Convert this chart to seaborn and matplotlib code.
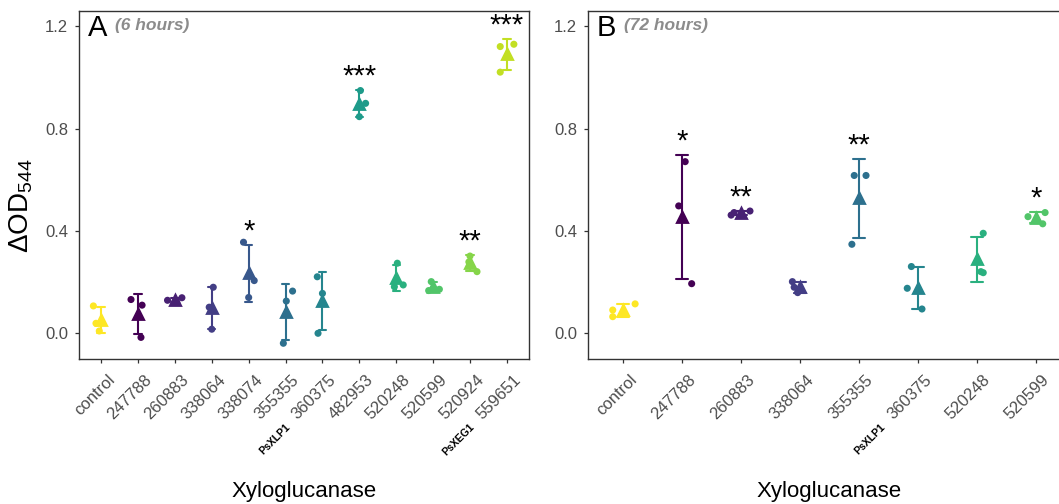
import numpy as np
import pandas as pd
import matplotlib
matplotlib.use("Agg")
import matplotlib.pyplot as plt
import matplotlib.transforms as mtransforms
import seaborn as sns

# ---------------- data ----------------
groups_6h = ["control", "247788", "260883", "338064", "338074", "355355",
             "360375", "482953", "520248", "520599", "520924", "559651"]
values_6h = [[0.107, 0.039, 0.009], [0.132, 0.110, -0.016], [0.129, 0.121, 0.139],
             [0.180, 0.102, 0.016], [0.356, 0.206, 0.140], [0.126, -0.039, 0.165],
             [0.221, 0.156, 0.000], [0.949, 0.899, 0.847], [0.274, 0.189, 0.182],
             [0.202, 0.172, 0.167], [0.302, 0.279, 0.241], [1.121, 1.130, 1.021]]
jitter_6h = [[-0.21, -0.14, -0.05], [-0.19, 0.11, 0.08], [-0.20, 0.05, 0.19],
             [0.04, -0.07, 0.00], [-0.14, 0.15, 0.00], [0.02, -0.06, 0.19],
             [-0.14, 0.00, -0.12], [0.03, 0.17, 0.00], [0.03, 0.19, -0.05],
             [-0.05, 0.17, -0.12], [0.00, -0.03, 0.19], [-0.18, 0.19, -0.18]]
stars_6h = ["", "", "", "", "*", "", "", "***", "", "", "**", "***"]

groups_72h = ["control", "247788", "260883", "338064", "355355", "360375", "520248", "520599"]
values_72h = [[0.091, 0.065, 0.115], [0.671, 0.498, 0.194], [0.462, 0.472, 0.478],
              [0.202, 0.180, 0.159], [0.617, 0.617, 0.348], [0.261, 0.176, 0.095],
              [0.391, 0.237, 0.241], [0.456, 0.472, 0.428]]
jitter_72h = [[-0.18, -0.18, 0.20], [0.05, -0.06, 0.16], [-0.17, -0.12, 0.15],
              [-0.13, -0.10, -0.04], [-0.08, 0.12, -0.12], [-0.11, -0.18, 0.07],
              [0.11, 0.11, 0.07], [-0.13, 0.16, 0.12]]
stars_72h = ["", "*", "**", "", "**", "", "", "*"]

bold_prefix = {"360375": "PsXLP1", "559651": "PsXEG1"}
panel_letters = ["A", "B"]
panel_notes = ["(6 hours)", "(72 hours)"]
y_ticks = [0.0, 0.4, 0.8, 1.2]
x_title = "Xyloglucanase"
y_title = r"ΔOD$_{544}$"

# ---------------- style ----------------
sns.set_theme(style="ticks")
plt.rcParams["font.family"] = ["Liberation Sans", "DejaVu Sans"]
plt.rcParams["mathtext.fontset"] = "custom"
plt.rcParams["mathtext.rm"] = "Liberation Sans"
plt.rcParams["mathtext.it"] = "Liberation Sans:italic"
plt.rcParams["mathtext.bf"] = "Liberation Sans:bold"

# viridis over all levels (numeric ids sorted, control last)
all_levels = sorted(set(groups_6h + groups_72h) - {"control"}) + ["control"]
cmap = plt.get_cmap("viridis")
level_colors = {lv: cmap(i / (len(all_levels) - 1)) for i, lv in enumerate(all_levels)}

W, H = 1059, 504
fig = plt.figure(figsize=(W / 100, H / 100), dpi=100)
ax1 = fig.add_axes([79 / W, 1 - 359 / H, 450 / W, 348 / H])
ax2 = fig.add_axes([588 / W, 1 - 359 / H, 483 / W, 348 / H])

frame_col = "#333333"
tick_col = "#4D4D4D"


def draw_panel(ax, groups, values, jitter, stars, letter, note):
    long = pd.DataFrame({
        "group": [g for g, v in zip(groups, values) for _ in v],
        "od": [x for v in values for x in v],
        "xpos": [i + j for i, jl in enumerate(jitter) for j in jl],
    })
    pal = {g: level_colors[g] for g in groups}
    sns.pointplot(data=long, x="group", y="od", hue="group", order=groups,
                  hue_order=groups, palette=pal, errorbar="sd", capsize=0.2,
                  marker="^", linestyle="none", markersize=7.5, legend=False,
                  err_kws={"linewidth": 1.5}, ax=ax)
    sns.scatterplot(data=long, x="xpos", y="od", hue="group", hue_order=groups,
                    palette=pal, s=26, linewidth=0, legend=False, ax=ax, zorder=5)
    # significance stars above mean + sd
    stats = long.groupby("group", sort=False)["od"].agg(["mean", "std"])
    for i, (g, s) in enumerate(zip(groups, stars)):
        if s:
            top = stats.loc[g, "mean"] + stats.loc[g, "std"]
            ax.annotate(s, xy=(i, top), xytext=(0, 4), textcoords="offset points",
                        ha="center", va="baseline", fontsize=21, color="black")
    ax.set_xlim(-0.6, len(groups) - 0.4)
    ax.set_ylim(-0.1005, 1.26)
    ax.set_yticks(y_ticks)
    ax.set_yticklabels([f"{t:.1f}" for t in y_ticks])
    ax.set_xticks(range(len(groups)))
    ax.set_xticklabels(groups, rotation=45, ha="right", va="top",
                       rotation_mode="anchor")
    ax.tick_params(axis="both", colors=frame_col, labelcolor=tick_col,
                   labelsize=12, length=3, width=0.9, direction="out")
    ax.tick_params(axis="y", pad=5)
    ax.tick_params(axis="x", pad=2)
    shift = mtransforms.ScaledTranslation(0.06, -0.06, fig.dpi_scale_trans)
    for t in ax.get_xticklabels():
        t.set_transform(t.get_transform() + shift)
    for sp in ax.spines.values():
        sp.set_visible(True)
        sp.set_color(frame_col)
        sp.set_linewidth(1.0)
    ax.set_xlabel(x_title, fontsize=16, color="black")
    ax.xaxis.set_label_coords(0.5, -0.352)
    ax.xaxis.label.set_va("top")
    ax.set_ylabel("")
    ax.annotate(letter, xy=(0, 1), xycoords="axes fraction",
                xytext=(9 * 0.72, -25 * 0.72), textcoords="offset points",
                ha="left", va="baseline", fontsize=21, color="black")
    ax.annotate(note, xy=(0, 1), xycoords="axes fraction",
                xytext=(36 * 0.72, -19 * 0.72), textcoords="offset points",
                ha="left", va="baseline", fontsize=12.5, color="#8C8C8C",
                fontweight="bold", fontstyle="italic")


draw_panel(ax1, groups_6h, values_6h, jitter_6h, stars_6h,
           panel_letters[0], panel_notes[0])
draw_panel(ax2, groups_72h, values_72h, jitter_72h, stars_72h,
           panel_letters[1], panel_notes[1])

ax1.set_ylabel(y_title, fontsize=20, color="black")
ax1.yaxis.set_label_coords(-0.098, 0.44)

# bold prefixes placed in front of selected tick labels
fig.canvas.draw()
renderer = fig.canvas.get_renderer()
c45 = np.cos(np.deg2rad(45))
for ax in (ax1, ax2):
    for t in ax.get_xticklabels():
        lab = t.get_text()
        if lab in bold_prefix:
            fp = t.get_fontproperties()
            w, _, _ = renderer.get_text_width_height_descent(lab + " ", fp, ismath=False)
            w += 6
            _, hh, dd = renderer.get_text_width_height_descent("lp", fp, ismath=False)
            ax0, ay0 = t.get_transform().transform(t.get_position())
            # baseline point of the main label (anchor is top-right)
            off = hh - dd
            bx = ax0 + off * c45
            by = ay0 - off * c45
            px = bx - w * c45
            py = by - w * c45
            fig.text(px / W, py / H, bold_prefix[lab], rotation=45,
                     rotation_mode="anchor", ha="right", va="baseline",
                     fontsize=7.5, fontweight="bold", color="black")

fig.savefig("out.png", dpi=100)
